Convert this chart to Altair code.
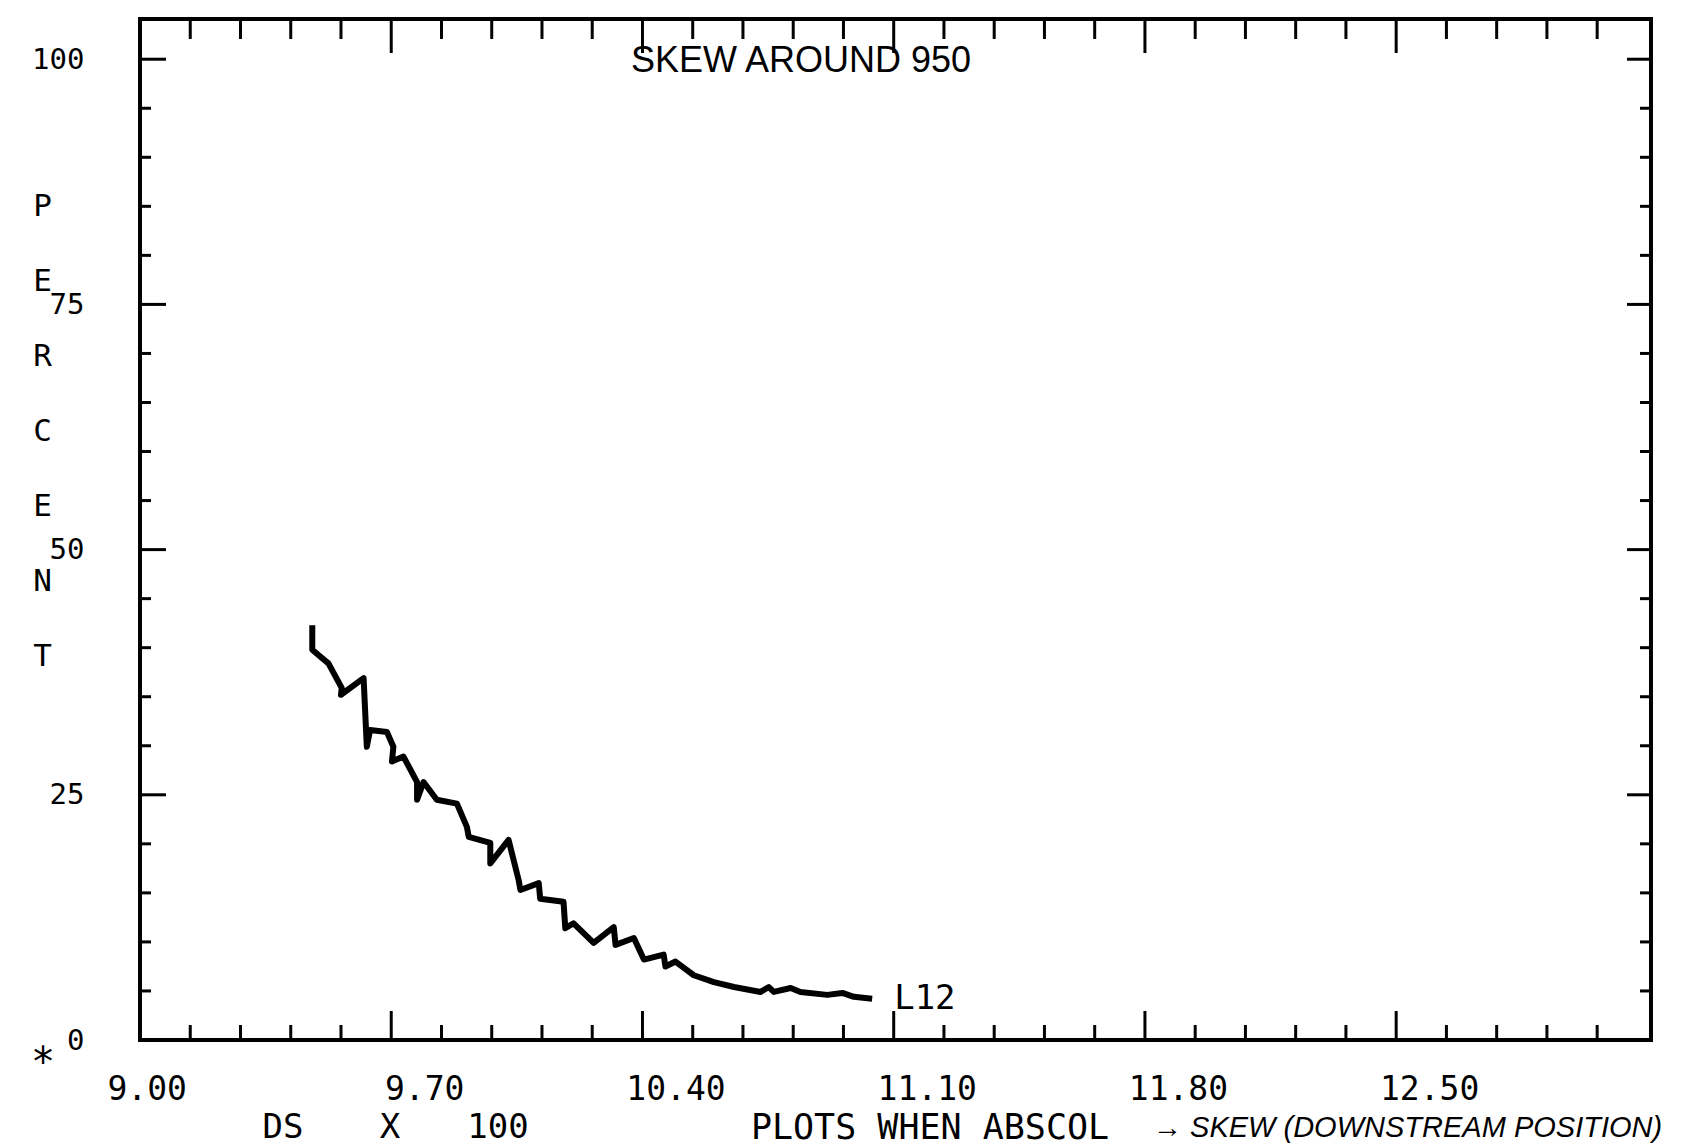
import altair as alt
import pandas as pd

# ---- data ----
CURVE_X = [9.480, 9.480, 9.502, 9.525, 9.562, 9.560, 9.623, 9.632, 9.641, 9.688,
           9.706, 9.702, 9.734, 9.772, 9.772, 9.790, 9.827, 9.883, 9.911, 9.916,
           9.976, 9.976, 10.027, 10.055, 10.060, 10.111, 10.115, 10.180, 10.185, 10.208,
           10.264, 10.320, 10.325, 10.376, 10.404, 10.459, 10.464, 10.492, 10.543, 10.599,
           10.655, 10.729, 10.752, 10.766, 10.813, 10.840, 10.915, 10.957, 10.989, 11.040]
CURVE_Y = [42.3, 39.8, 39.1, 38.4, 35.9, 35.2, 36.9, 29.9, 31.6, 31.4,
           29.9, 28.4, 28.9, 26.3, 24.5, 26.3, 24.5, 24.1, 21.7, 20.7,
           20.1, 18.0, 20.4, 16.3, 15.3, 16.0, 14.4, 14.1, 11.4, 11.9,
           9.9, 11.5, 9.7, 10.4, 8.2, 8.7, 7.5, 8.0, 6.6, 5.9,
           5.4, 4.9, 5.4, 4.9, 5.3, 4.9, 4.6, 4.8, 4.4, 4.2]
SERIES_LABEL = "L12"

X_LABELS = [9.0, 9.7, 10.4, 11.1, 11.8, 12.5]
X_MAJOR = [9.0, 9.7, 10.4, 11.1, 11.8, 12.5]
X_MINOR = [9.14, 9.28, 9.42, 9.56, 9.84, 9.98, 10.12, 10.26, 10.54, 10.68, 10.82, 10.96,
           11.24, 11.38, 11.52, 11.66, 11.94, 12.08, 12.22, 12.36, 12.64, 12.78, 12.92, 13.06]
Y_MAJOR = [0, 25, 50, 75, 100]
Y_MINOR = [5, 10, 15, 20, 30, 35, 40, 45, 55, 60, 65, 70, 80, 85, 90, 95]

Y_TITLE = ["P", "E", "R", "C", "E", "N", "T"]
NOTE = "SKEW AROUND 950"

W, H = 1511, 1021
MONO = "DejaVu Sans Mono"
HAND = "Liberation Sans"

xs = alt.Scale(domain=[9.0, 13.21], nice=False, zero=False)
ys = alt.Scale(domain=[0, 104.1], nice=False, zero=False)

curve = pd.DataFrame({"i": list(range(len(CURVE_X))), "x": CURVE_X, "y": CURVE_Y})

line = alt.Chart(curve).mark_line(color="black", strokeWidth=6, strokeJoin="round").encode(
    x=alt.X("x:Q", scale=xs, axis=alt.Axis(
        values=X_LABELS, format=".2f", title=None, grid=False, domain=False, ticks=False,
        tickSize=0, labelFont=MONO, labelFontSize=33, labelColor="black",
        labelBaseline="middle", labelPadding=49,
        labelOffset={"condition": {"test": "datum.value < 9.1", "value": -33}, "value": 33})),
    y=alt.Y("y:Q", scale=ys, axis=alt.Axis(
        values=Y_MAJOR, format="d", grid=False, domain=False, ticks=False, tickSize=0,
        labelFont=MONO, labelFontSize=29, labelColor="black", labelPadding=56,
        title=Y_TITLE, titleAngle=0, titleX=-98, titleY=172, titleBaseline="top",
        titleAlign="center", titleLineHeight=75, titleFont=MONO, titleFontSize=31,
        titleFontWeight="normal", titleColor="black")),
    order="i:Q",
)

def xticks(vals, y0, y1):
    return alt.Chart(pd.DataFrame({"t": vals})).mark_rule(color="black", strokeWidth=3).encode(
        x=alt.X("t:Q", scale=xs), y=alt.value(y0), y2=alt.value(y1))

def yticks(vals, x0, x1):
    return alt.Chart(pd.DataFrame({"t": vals})).mark_rule(color="black", strokeWidth=3).encode(
        y=alt.Y("t:Q", scale=ys), x=alt.value(x0), x2=alt.value(x1))

ticks = [
    xticks(X_MAJOR, H, H - 29), xticks(X_MINOR, H, H - 15),
    xticks(X_MAJOR, 0, 34), xticks(X_MINOR, 0, 20),
    yticks(Y_MAJOR, 0, 26), yticks(Y_MINOR, 0, 11),
    yticks(Y_MAJOR, W, W - 24), yticks(Y_MINOR, W, W - 11),
]

end = pd.DataFrame({"x": [CURVE_X[-1]], "y": [CURVE_Y[-1]], "t": [SERIES_LABEL]})
end_label = alt.Chart(end).mark_text(font=MONO, fontSize=34, align="left", baseline="middle",
                                     dx=22, color="black").encode(
    x=alt.X("x:Q", scale=xs), y=alt.Y("y:Q", scale=ys), text="t:N")

def note(text, x, y, font=MONO, size=30, align="center", style="normal"):
    return alt.Chart(pd.DataFrame({"t": [text]})).mark_text(
        font=font, fontSize=size, align=align, baseline="middle", color="black",
        fontStyle=style).encode(x=alt.value(x), y=alt.value(y), text="t:N")

notes = [
    note(NOTE, 661, 42, font=HAND, size=36),
    note("*", -97, 1045, size=40),
    note("DS", 143, 1109, size=34),
    note("X", 250, 1109, size=34),
    note("100", 358, 1109, size=34),
    note("PLOTS WHEN ABSCOL", 790, 1109, size=35),
    note("\u2192 SKEW (DOWNSTREAM POSITION)", 1013, 1109, font=HAND, size=29,
         align="left", style="italic"),
]

chart = alt.layer(line, *ticks, end_label, *notes).properties(
    width=W, height=H,
    autosize=alt.AutoSizeParams(type="none"),
    padding={"left": 140, "top": 19, "right": 36, "bottom": 107},
    background="white",
).configure_view(stroke="black", strokeWidth=4)

chart.save("out.html", embed_options={"renderer": "svg", "actions": False})
